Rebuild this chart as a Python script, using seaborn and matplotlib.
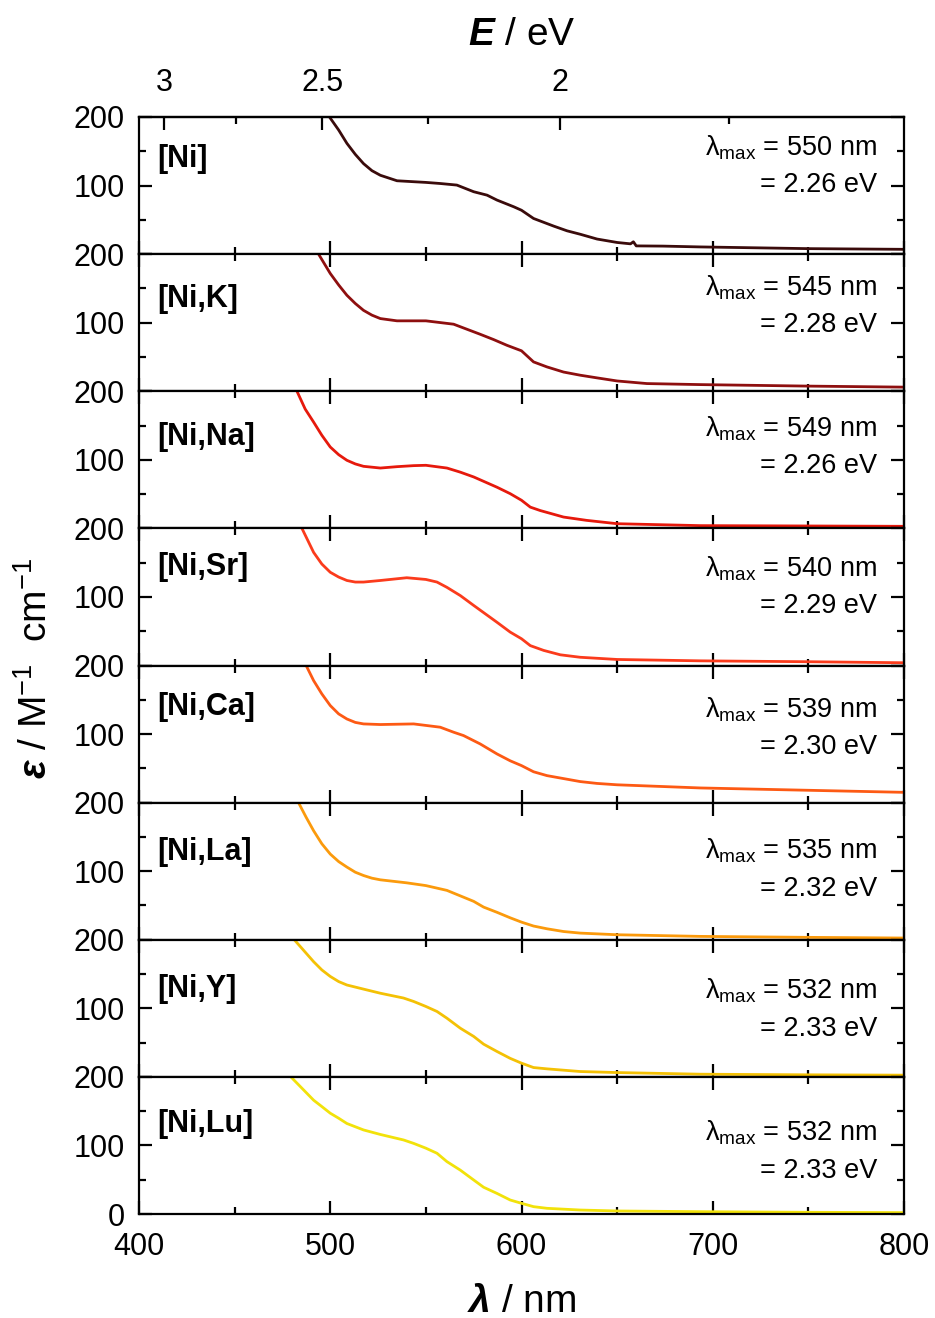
import numpy as np
import pandas as pd
import matplotlib
matplotlib.use("Agg")
import matplotlib.pyplot as plt
from matplotlib.ticker import FixedLocator, MultipleLocator
import seaborn as sns

# ---------------- data ----------------
samples = ["[Ni]", "[Ni,K]", "[Ni,Na]", "[Ni,Sr]", "[Ni,Ca]", "[Ni,La]", "[Ni,Y]", "[Ni,Lu]"]
lmax_nm = ["550", "545", "549", "540", "539", "535", "532", "532"]
lmax_ev = ["2.26", "2.28", "2.26", "2.29", "2.30", "2.32", "2.33", "2.33"]

wl_Ni = [499.6, 504.4, 508.7, 513.1, 517.4, 521.8, 526.2, 534.9, 543.6, 550.0, 557.5, 566.2, 575.0,
         582.0, 587.2, 596.0, 600.0, 606.3, 616.8, 623.8, 630.7, 639.5, 650.0, 657.0, 658.5, 660.0,
         674.0, 693.5, 750.0, 800.0]
eps_Ni = [200, 181, 161.6, 145.5, 132, 121.7, 115, 107, 105.6, 104.6, 103, 100.7, 91,
          86, 78.8, 69, 64, 52, 40.9, 34, 29, 22, 17, 15, 18, 12,
          11.7, 10.5, 8, 7]

wl_K = [493.9, 500.0, 504.4, 508.7, 513.1, 517.4, 521.8, 526.2, 534.9, 543.6, 550.0, 564.5, 578.5,
        585.4, 592.4, 600.0, 606.3, 613.3, 622.0, 630.7, 639.5, 650.0, 665.6, 693.5, 750.0, 800.0]
eps_K = [200, 171.8, 155, 140, 128, 118, 111, 106, 102.7, 102.7, 102.7, 97.8, 83,
         75.4, 67, 59, 42.8, 35.5, 28, 23.4, 19.5, 15, 11.2, 9.7, 7.5, 6]

wl_Na = [482.6, 486.9, 491.3, 495.6, 500.0, 504.4, 508.7, 513.1, 517.4, 526.2, 534.9, 543.6, 550.0,
         561.0, 568.0, 575.0, 587.2, 594.1, 600.0, 604.6, 609.8, 622.0, 634.0, 650.0, 693.5, 750.0, 800.0]
eps_Na = [200, 174, 155, 135.8, 118.7, 107.5, 99.3, 94, 90.5, 88, 90, 91.5, 92,
          88, 82, 75, 60, 50.6, 41, 31, 26, 16.5, 11.7, 6.8, 4, 3.5, 3]

wl_Sr = [485.2, 491.3, 495.6, 500.0, 504.4, 508.7, 513.1, 517.4, 526.2, 540.0, 550.0, 555.8, 561.0,
         568.0, 575.0, 587.2, 594.1, 600.0, 604.6, 611.6, 620.3, 630.7, 650.0, 693.5, 750.0, 800.0]
eps_Sr = [200, 165, 148, 136, 129, 124, 121.7, 121.7, 124, 128, 125.5, 121.7, 114,
          102, 87.6, 63, 48.7, 39, 29, 22, 15.6, 12, 8.8, 6.8, 5.5, 4]

wl_Ca = [487.4, 491.3, 495.6, 500.0, 504.4, 508.7, 513.1, 517.4, 526.2, 543.6, 557.5, 564.5, 569.7,
         578.4, 587.2, 594.1, 600.0, 606.3, 613.3, 630.7, 639.5, 650.0, 693.5, 750.0, 800.0]
eps_Ca = [200, 178, 158.6, 141.6, 129.4, 122, 117, 114.8, 113.9, 114.8, 110, 102.7, 97.8,
          85.6, 71, 61, 54, 45, 39.4, 30.7, 28, 26, 21.4, 18, 15]

wl_La = [483.4, 487.4, 491.3, 495.6, 500.0, 504.4, 508.7, 513.1, 517.4, 521.8, 526.2, 540.0, 550.0,
         561.0, 575.0, 580.2, 587.2, 594.1, 600.0, 606.3, 613.3, 622.0, 630.7, 650.0, 693.5, 750.0, 800.0]
eps_La = [200, 178.6, 159, 140, 125, 114, 106, 98.5, 93.7, 89.8, 87.4, 83, 79,
          72, 56, 47.6, 40, 32, 25.7, 20, 16, 12, 9.7, 7.3, 4.9, 3.5, 2.5]

wl_Y = [481.2, 491.3, 495.6, 500.0, 504.4, 508.7, 517.4, 526.2, 538.3, 543.6, 550.0, 555.8, 561.0,
        568.0, 575.0, 580.2, 587.2, 594.1, 600.0, 606.3, 613.3, 630.7, 650.0, 693.5, 750.0, 800.0]
eps_Y = [200, 168, 156, 146.5, 139, 134, 128, 122, 115, 110, 102.7, 95.4, 85.6,
         71, 59, 47.7, 37, 27, 20, 13.6, 11.7, 7.8, 6.3, 3.9, 3, 2.5]

wl_Lu = [479.4, 491.3, 495.6, 500.0, 504.4, 508.7, 517.4, 526.2, 538.3, 543.6, 550.0, 555.8, 561.0,
         568.0, 575.0, 580.2, 587.2, 594.1, 600.0, 606.3, 613.3, 630.7, 650.0, 693.5, 750.0, 800.0]
eps_Lu = [200, 166, 156.7, 147, 139.7, 132, 122.6, 116, 108, 103, 96, 88.6, 76.4,
          64, 49.6, 39, 30, 20.4, 15.6, 10.7, 8.3, 5.8, 4.4, 3.4, 2.5, 2]

wl_all = [wl_Ni, wl_K, wl_Na, wl_Sr, wl_Ca, wl_La, wl_Y, wl_Lu]
eps_all = [eps_Ni, eps_K, eps_Na, eps_Sr, eps_Ca, eps_La, eps_Y, eps_Lu]

# ---------------- styles ----------------
colors = ["#3a0b0b", "#8e0f0f", "#e6190c", "#fb3b1c", "#fd5a14", "#fb9a0c", "#f4c105", "#f2e20a"]
# vertical placement of text (px from panel top)
label_base_px = [50, 53, 54, 47, 50, 57, 57, 55]
lmax_base_px = [38, 41, 45, 48, 52, 56, 59, 64]

sns.set_style("ticks")
plt.rcParams["font.family"] = ["Liberation Sans", "DejaVu Sans"]
plt.rcParams["mathtext.fontset"] = "custom"
plt.rcParams["mathtext.rm"] = "Liberation Sans"
plt.rcParams["mathtext.it"] = "Liberation Sans:italic"
plt.rcParams["mathtext.bf"] = "Liberation Sans:bold"
plt.rcParams["mathtext.bfit"] = "Liberation Sans:italic:bold"
for k in ["text.color", "axes.labelcolor", "xtick.color", "ytick.color", "axes.edgecolor"]:
    plt.rcParams[k] = "black"

rows = []
for name, wl, ep in zip(samples, wl_all, eps_all):
    for w, e in zip(wl, ep):
        rows.append((name, w, e))
df = pd.DataFrame(rows, columns=["sample", "wl", "eps"])

W, H, DPI = 935, 1318, 100
fig, axes = plt.subplots(8, 1, figsize=(W / DPI, H / DPI), dpi=DPI, sharex=True)
fig.subplots_adjust(left=139 / W, right=904 / W, top=1 - 117 / H, bottom=1 - 1214 / H, hspace=0)

panel_h = (1214 - 117) / 8.0
for i, ax in enumerate(axes):
    sub = df[df["sample"] == samples[i]]
    sns.lineplot(data=sub, x="wl", y="eps", ax=ax, color=colors[i], linewidth=2.0,
                 estimator=None, sort=True, legend=False)
    ax.set_xlim(400, 800)
    ax.set_ylim(0, 200)
    ax.set_xlabel("")
    ax.set_ylabel("")
    for s in ax.spines.values():
        s.set_linewidth(1.6)
        s.set_visible(True)
        s.set_color("black")
    ax.xaxis.set_major_locator(MultipleLocator(100))
    ax.xaxis.set_minor_locator(MultipleLocator(50))
    ax.yaxis.set_major_locator(FixedLocator([0, 100, 200]))
    ax.yaxis.set_minor_locator(FixedLocator([50, 150]))
    ax.tick_params(axis="both", which="major", direction="in", length=9.5, width=1.6,
                   labelsize=22, top=True, right=True, bottom=True, left=True, colors="black")
    ax.tick_params(axis="y", which="major", pad=10)
    ax.tick_params(axis="x", which="major", pad=13)
    ax.tick_params(axis="both", which="minor", direction="in", length=5, width=1.6,
                   top=True, right=True, bottom=True, left=True, colors="black")
    if i < 7:
        ax.set_yticklabels(["", "100", "200"])
        ax.tick_params(axis="x", which="both", labelbottom=False)
    else:
        ax.set_yticklabels(["0", "100", "200"])
    if i == 0:
        ax.tick_params(axis="x", which="both", top=False)

    # sample label
    ax.text((157 - 139) / 765, 1 - label_base_px[i] / panel_h, samples[i],
            transform=ax.transAxes, fontsize=22, fontweight="bold", ha="left", va="baseline")
    xr = (877 - 139) / 765
    ax.text(xr, 1 - lmax_base_px[i] / panel_h,
            r"$\mathrm{\lambda_{max}}$ = " + lmax_nm[i] + " nm",
            transform=ax.transAxes, fontsize=19.5, ha="right", va="baseline")
    ax.text(xr, 1 - (lmax_base_px[i] + 37) / panel_h, "= " + lmax_ev[i] + " eV",
            transform=ax.transAxes, fontsize=19.5, ha="right", va="baseline")

axes[-1].set_xticks([400, 500, 600, 700, 800])
axes[-1].set_xticklabels(["400", "500", "600", "700", "800"])


def nm2ev(x):
    x = np.asarray(x, dtype=float)
    with np.errstate(divide="ignore", invalid="ignore"):
        return np.where(x != 0, 1239.84 / np.where(x != 0, x, 1), np.inf)


secax = axes[0].secondary_xaxis("top", functions=(nm2ev, nm2ev))
secax.xaxis.set_major_locator(FixedLocator([3, 2.5, 2]))
secax.xaxis.set_minor_locator(FixedLocator([2.75, 2.25, 1.75]))
secax.set_xticklabels(["3", "2.5", "2"])
secax.tick_params(axis="x", which="major", direction="in", length=9.5, width=1.6, labelsize=22,
                  pad=14, colors="black")
secax.tick_params(axis="x", which="minor", direction="in", length=5, width=1.6, colors="black")
secax.spines["top"].set_linewidth(1.6)
secax.spines["top"].set_color("black")
secax.set_xlabel(r"$\mathbfit{E}$ / eV", fontsize=28, labelpad=16)

fig.text((139 + 904) / 2 / W, 1 - 1302 / H, r"$\mathbfit{\lambda}$ / nm", fontsize=28,
         ha="center", va="center")
fig.text(36 / W, 1 - 668 / H, r"$\mathbfit{\varepsilon}$ / M$^{-1}$  cm$^{-1}$", fontsize=28,
         ha="center", va="center", rotation=90)

fig.savefig("out.png", dpi=DPI)
